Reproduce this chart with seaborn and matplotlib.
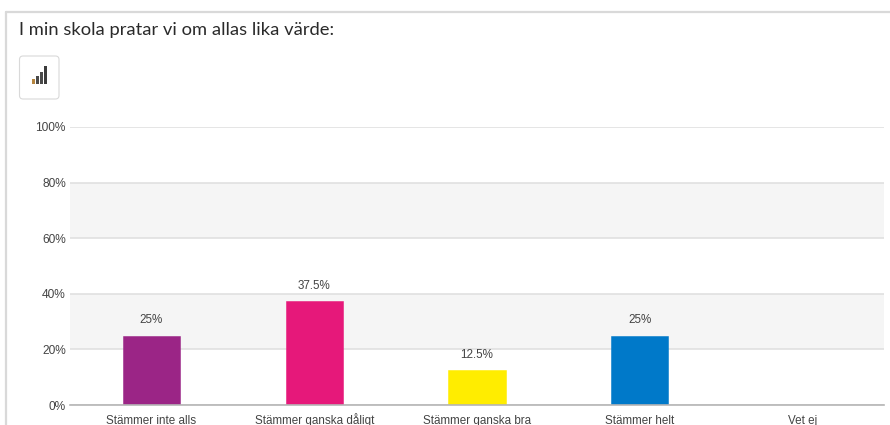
"""
I min skola pratar vi om allas lika värde - stapeldiagram
"""
import matplotlib
matplotlib.use('Agg')
import matplotlib.pyplot as plt
from matplotlib.colors import to_rgba
from matplotlib.patches import FancyBboxPatch, Rectangle
from matplotlib.lines import Line2D
import pandas as pd
import seaborn as sns

TITLE = "I min skola pratar vi om allas lika värde:"
CATEGORIES = ["Stämmer inte alls", "Stämmer ganska dåligt", "Stämmer ganska bra", "Stämmer helt", "Vet ej"]
VALUES = [25, 37.5, 12.5, 25, 0]
BAR_LABELS = ["25%", "37.5%", "12.5%", "25%", ""]
COLORS = ["#9b2586", "#e6187a", "#ffed00", "#0079c9", "#999999"]
Y_TICKS = [0, 20, 40, 60, 80, 100]
Y_LABELS = ["0%", "20%", "40%", "60%", "80%", "100%"]
BANDS = [(20, 40), (60, 80)]

W, H = 890, 425
TEXT = '#444444'

sns.set_theme(style='white')
plt.rcParams['font.family'] = ['Liberation Sans', 'DejaVu Sans']

def px_x(x): return x / W
def px_y(y): return 1 - y / H

fig = plt.figure(figsize=(W / 100, H / 100), dpi=100, facecolor='white')
ax = fig.add_axes([px_x(70), px_y(405), (884 - 70) / W, (405 - 127) / H])

df = pd.DataFrame({'svar': CATEGORIES, 'andel': VALUES})
sns.barplot(data=df, x='svar', y='andel', hue='svar', palette=COLORS, legend=False,
            width=0.352, saturation=1, ax=ax, zorder=3)
for patch, c in zip(ax.patches, COLORS):
    patch.set_edgecolor(to_rgba(c, 0.55))
    patch.set_linewidth(0.7)

ax.set_xlim(-0.5, 4.5)
ax.set_ylim(0, 100)
for lo, hi in BANDS:
    ax.axhspan(lo, hi, color='#f5f5f5', lw=0, zorder=0)
ax.set_yticks(Y_TICKS, Y_LABELS)
ax.grid(axis='y', color='#dedede', lw=1.1, zorder=1)
ax.set_axisbelow(True)
ax.set_xlabel('')
ax.set_ylabel('')
ax.tick_params(axis='both', length=0, labelcolor=TEXT)
ax.tick_params(axis='x', pad=13.5, labelsize=8.35)
ax.tick_params(axis='y', pad=3, labelsize=8.6)
for lab in ax.get_xticklabels():
    lab.set_va('baseline')
for s in ['top', 'left', 'right']:
    ax.spines[s].set_visible(False)
ax.spines['bottom'].set_color('#b5b5b5')
ax.spines['bottom'].set_linewidth(1.2)
ax.spines['bottom'].set_zorder(5)

for i, (v, lab) in enumerate(zip(VALUES, BAR_LABELS)):
    if lab:
        ax.annotate(lab, (i, v), xytext=(0, 6.5), textcoords='offset points',
                    ha='center', va='bottom', fontsize=8.35, color=TEXT, zorder=6)

# ram runt panelen
fig.add_artist(Line2D([px_x(6), px_x(6)], [0, px_y(12)], color='#d9d9d9', lw=1.6))
fig.add_artist(Line2D([px_x(6), 1], [px_y(12), px_y(12)], color='#d9d9d9', lw=1.6))

fig.text(px_x(19), px_y(30), TITLE, fontsize=13.2, color='#2a2a2a', va='center', ha='left',
         family=['Lato', 'DejaVu Sans'])

# knapp med ikon
fig.add_artist(FancyBboxPatch((px_x(19.5), px_y(99)), 39.5 / W, 43 / H, transform=fig.transFigure,
                              boxstyle='round,pad=0,rounding_size=0.004', fc='white',
                              ec='#d9d9d9', lw=0.8, mutation_aspect=W / H))
for x0, top, c in [(32, 79, '#b5853f'), (36, 76, '#4a4a4a'), (40, 72, '#4a4a4a'), (44, 66, '#3c3c3c')]:
    fig.add_artist(Rectangle((px_x(x0), px_y(84)), 3 / W, (84 - top) / H,
                             transform=fig.transFigure, fc=c, ec='none'))

fig.savefig('out.png', dpi=100)
